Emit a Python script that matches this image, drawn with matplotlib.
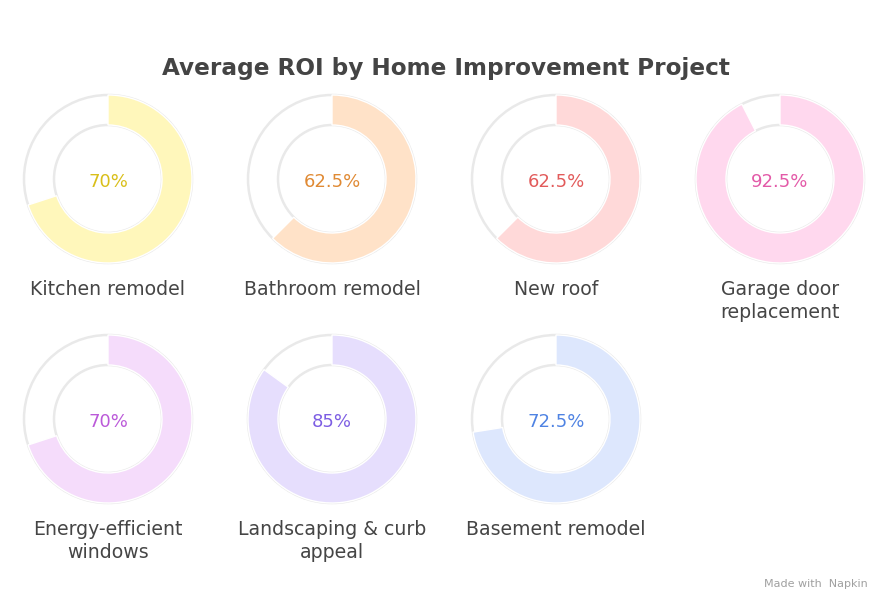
import matplotlib
matplotlib.use("Agg")
import matplotlib.pyplot as plt
from matplotlib.patches import Circle

projects = ["Kitchen remodel", "Bathroom remodel", "New roof", "Garage door\nreplacement",
            "Energy-efficient\nwindows", "Landscaping & curb\nappeal", "Basement remodel"]
roi = [70, 62.5, 62.5, 92.5, 70, 85, 72.5]
roi_labels = ["70%", "62.5%", "62.5%", "92.5%", "70%", "85%", "72.5%"]
fill_colors = ["#fff7bb", "#ffe2c8", "#ffd9d9", "#ffd8ee", "#f5dcfb", "#e6defd", "#dde7fd"]
text_colors = ["#d9bf1a", "#e08a34", "#e25b5b", "#e35aa8", "#bb5ad9", "#7d5ee3", "#4f83e3"]

plt.rcParams['font.family'] = ['DejaVu Sans']

W, H = 893, 612
fig = plt.figure(figsize=(W / 100, H / 100), dpi=100)
ax = fig.add_axes([0, 0, 1, 1])

col_x = [108, 332, 556, 780]
row_y = [179, 419]
R_OUT, R_IN = 84, 54

for i, (name, v) in enumerate(zip(projects, roi)):
    cx = col_x[i % 4]
    cy = row_y[i // 4]
    ax.add_patch(Circle((cx, cy), R_OUT, fill=False, ec="#e9e9e9", lw=1.8, zorder=1))
    ax.add_patch(Circle((cx, cy), R_IN, fill=False, ec="#e9e9e9", lw=1.8, zorder=1))
    # y axis is inverted: startangle -90 points up, counterclock in data = clockwise on screen
    wedges, _ = ax.pie([v, 100 - v], colors=[fill_colors[i], "none"], startangle=-90,
                       counterclock=True, center=(cx, cy), radius=R_OUT,
                       wedgeprops=dict(width=R_OUT - R_IN, edgecolor="white", linewidth=1))
    for w in wedges:
        w.set_zorder(2)
    wedges[1].set_edgecolor("none")
    ax.text(cx, cy + 3, roi_labels[i], ha="center", va="center", fontsize=13,
            color=text_colors[i], zorder=3)
    ax.text(cx, cy + 101, name, ha="center", va="top", fontsize=13.6, color="#454545",
            linespacing=1.25, zorder=3)

ax.text(446, 68, "Average ROI by Home Improvement Project", ha="center", va="center",
        fontsize=16.7, fontweight="bold", color="#444444")
ax.text(868, 584, "Made with  Napkin", ha="right", va="center", fontsize=8, color="#a0a0a0")

ax.set_xlim(0, W)
ax.set_ylim(H, 0)
ax.set_aspect("equal")
ax.axis("off")
fig.savefig("out.png", dpi=100, facecolor="white")
